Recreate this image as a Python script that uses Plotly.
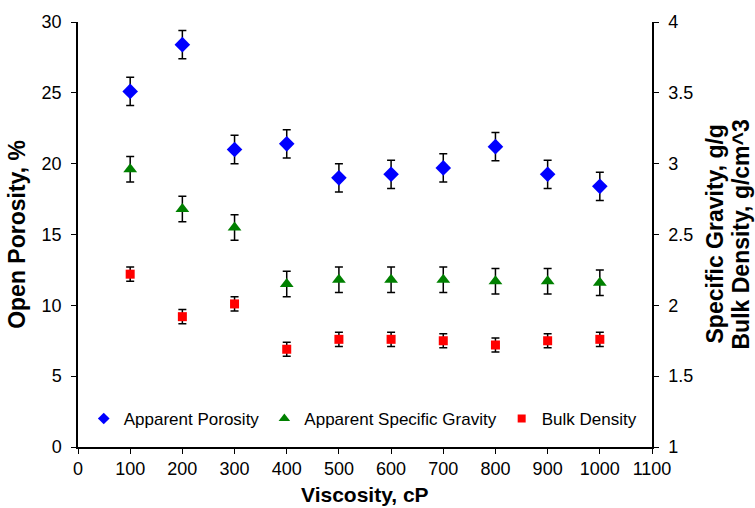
import plotly.graph_objects as go

viscosity = [100, 200, 300, 400, 500, 600, 700, 800, 900, 1000]
apparent_porosity = [25.1, 28.4, 21.0, 21.4, 19.0, 19.25, 19.7, 21.2, 19.25, 18.4]
porosity_err = [1.0] * 10
apparent_sg = [2.96, 2.68, 2.55, 2.15, 2.18, 2.18, 2.18, 2.17, 2.17, 2.16]
sg_err = [0.09] * 10
bulk_density = [2.22, 1.92, 2.01, 1.69, 1.76, 1.76, 1.75, 1.72, 1.75, 1.76]
bd_err = [0.05] * 10

x_ticks = list(range(0, 1101, 100))
series_names = ["Apparent Porosity", "Apparent Specific Gravity", "Bulk Density"]
right_title_lines = ["Specific Gravity, g/g", "Bulk Density, g/cm^3"]

fig = go.Figure()
err_style = dict(type="data", color="black", thickness=1.5, width=4)

fig.add_trace(go.Scatter(
    x=viscosity, y=apparent_porosity, mode="markers", name=series_names[0],
    marker=dict(symbol="diamond", color="#0000FF", size=12),
    error_y=dict(array=porosity_err, **err_style), yaxis="y", showlegend=False))
fig.add_trace(go.Scatter(
    x=viscosity, y=apparent_sg, mode="markers", name=series_names[1],
    marker=dict(symbol="triangle-up", color="#008000", size=12),
    error_y=dict(array=sg_err, **err_style), yaxis="y2", showlegend=False))
fig.add_trace(go.Scatter(
    x=viscosity, y=bulk_density, mode="markers", name=series_names[2],
    marker=dict(symbol="square", color="#FF0000", size=9),
    error_y=dict(array=bd_err, **err_style), yaxis="y2", showlegend=False))

# legend entries (smaller symbols, as in the reference legend)
legend_markers = [("diamond", "#0000FF", 9), ("triangle-up", "#008000", 10), ("square", "#FF0000", 8)]
for name, (sym, col, sz) in zip(series_names, legend_markers):
    fig.add_trace(go.Scatter(x=[None], y=[None], mode="markers", name=name,
                             marker=dict(symbol=sym, color=col, size=sz)))

font_family = "Liberation Sans, Arial, sans-serif"
fig.update_layout(
    width=755, height=508,
    margin=dict(l=78, r=103, t=20, b=61),
    paper_bgcolor="white", plot_bgcolor="white",
    font=dict(family=font_family, size=18, color="black"),
    showlegend=True,
    legend=dict(orientation="h", x=0.01, y=0.066, xanchor="left", yanchor="middle",
                font=dict(size=17), bgcolor="rgba(0,0,0,0)", itemwidth=30,
                tracegroupgap=0),
    xaxis=dict(range=[0, 1100], tickvals=x_ticks, showgrid=False, zeroline=False,
               showline=True, linecolor="black", linewidth=1.5,
               ticks="outside", ticklen=5, tickcolor="black", ticklabelstandoff=0),
    yaxis=dict(range=[0, 30], dtick=5, showgrid=False, zeroline=False,
               showline=True, linecolor="black", linewidth=1.5,
               ticks="outside", ticklen=5, tickcolor="black", ticklabelstandoff=6,
               title=dict(text="<b>Open Porosity, %</b>", font=dict(size=23), standoff=10)),
    yaxis2=dict(range=[1, 4], dtick=0.5, overlaying="y", side="right",
                showgrid=False, zeroline=False,
                showline=True, linecolor="black", linewidth=1.5,
                ticks="outside", ticklen=5, tickcolor="black", ticklabelstandoff=6),
)

# x-axis title
fig.add_annotation(text="<b>Viscosity, cP</b>", xref="paper", yref="paper",
                   x=0.5, y=-(507 - 447) / 427, xanchor="center", yanchor="bottom",
                   showarrow=False, font=dict(size=21), borderpad=0)
# right axis title, two lines
for txt, xpx in zip(right_title_lines, [714, 740]):
    fig.add_annotation(text="<b>" + txt + "</b>", xref="paper", yref="paper",
                       x=(xpx - 78) / 574, y=0.5, xanchor="center", yanchor="middle",
                       textangle=-90, showarrow=False, font=dict(size=23))

fig.write_html("out.html")
